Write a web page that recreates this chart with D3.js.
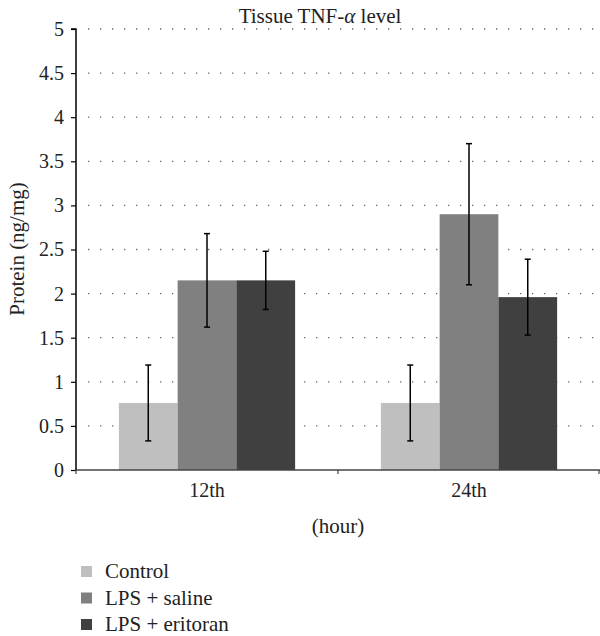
<!DOCTYPE html>
<html><head><meta charset="utf-8">
<script src="https://cdn.jsdelivr.net/npm/d3@7"></script>
<style>body{margin:0;background:#fff}svg{display:block}</style>
</head><body><svg id="c" width="600" height="636"></svg>
<script>
const categories = ["12th", "24th"];
const seriesNames = ["Control", "LPS + saline", "LPS + eritoran"];
const control = [0.76, 0.76];
const saline = [2.15, 2.9];
const eritoran = [2.15, 1.96];
const controlErr = [0.43, 0.43];
const salineErr = [0.53, 0.8];
const eritoranErr = [0.33, 0.43];
const yTicks = [0, 0.5, 1, 1.5, 2, 2.5, 3, 3.5, 4, 4.5, 5];
const colors = ["#bfbfbf", "#808080", "#404040"];

const FONT = "'Liberation Serif', 'DejaVu Serif', 'Times New Roman', serif";
const FS = 20;
const values = [control, saline, eritoran];
const errs = [controlErr, salineErr, eritoranErr];
const svg = d3.select("#c");
const m = {l: 76, r: 0, t: 29, b: 166};
const W = 600, H = 636;
const y = d3.scaleLinear().domain([0, 5]).range([H - m.b, m.t]);
const x0 = d3.scaleBand().domain(categories).range([m.l, W - m.r]).paddingInner(0).paddingOuter(0);
const x1 = d3.scaleBand().domain(seriesNames).range([0, x0.bandwidth()]).paddingInner(0).paddingOuter(0.73);

// grid
svg.append("g").selectAll("line").data(yTicks.filter(d => d > 0)).join("line")
  .attr("x1", m.l + 12).attr("x2", W).attr("y1", d => y(d)).attr("y2", d => y(d))
  .attr("stroke", "#666").attr("stroke-width", 1.3).attr("stroke-dasharray", "1.3,10.7");

// bars
const g = svg.append("g");
categories.forEach((c, ci) => {
  seriesNames.forEach((s, si) => {
    const v = values[si][ci], e = errs[si][ci];
    const bx = x0(c) + x1(s);
    g.append("rect").attr("x", bx).attr("y", y(v)).attr("width", x1.bandwidth()).attr("height", y(0) - y(v)).attr("fill", colors[si]);
    const cx = bx + x1.bandwidth() / 2;
    g.append("line").attr("x1", cx).attr("x2", cx).attr("y1", y(v + e)).attr("y2", y(v - e)).attr("stroke", "#000").attr("stroke-width", 1.5);
    [v + e, v - e].forEach(t => g.append("line").attr("x1", cx - 3).attr("x2", cx + 3).attr("y1", y(t)).attr("y2", y(t)).attr("stroke", "#000").attr("stroke-width", 1.5));
  });
});

// y axis
const ya = svg.append("g").attr("transform", `translate(${m.l},0)`)
  .call(d3.axisLeft(y).tickValues(yTicks).tickSize(5).tickPadding(7).tickFormat(d3.format("")));
ya.attr("font-family", FONT);
ya.select(".domain").attr("stroke", "#000").attr("stroke-width", 1.5).attr("d", `M-5,${y(5)}H0V${y(0)}`);
ya.selectAll(".tick line").attr("stroke", "#000").attr("stroke-width", 1.2);
ya.selectAll("text").attr("font-family", FONT).attr("font-size", FS).attr("fill", "#222");

// x axis
const xa = svg.append("g").attr("transform", `translate(0,${y(0)})`)
  .call(d3.axisBottom(x0).tickSize(0).tickPadding(0));
xa.attr("font-family", FONT);
xa.select(".domain").attr("stroke", "#444").attr("stroke-width", 1.5).attr("d", `M${m.l},0H${W}`);
xa.selectAll("text").attr("font-family", FONT).attr("font-size", FS).attr("fill", "#222").attr("dy", null).attr("y", 27);
[m.l, x0("24th"), W - 1].forEach(t => svg.append("line").attr("x1", t).attr("x2", t).attr("y1", y(0)).attr("y2", y(0) + 4).attr("stroke", "#444").attr("stroke-width", 1.2));

// title & labels
const txt = (sel) => sel.attr("font-family", FONT).attr("fill", "#222");
txt(svg.append("text")).attr("x", 320).attr("y", 23).attr("text-anchor", "middle").attr("font-size", 21)
  .html('Tissue TNF-<tspan font-style="italic">α</tspan> level');
txt(svg.append("text")).attr("x", 338).attr("y", 533).attr("text-anchor", "middle").attr("font-size", FS + 1).text("(hour)");
txt(svg.append("text")).attr("transform", `translate(24,249) rotate(-90)`).attr("text-anchor", "middle").attr("font-size", FS + 1).text("Protein (ng/mg)");

// legend
const lg = svg.append("g");
seriesNames.forEach((s, i) => {
  const ly = 571 + i * 26.5;
  lg.append("rect").attr("x", 81).attr("y", ly - 5).attr("width", 11).attr("height", 11).attr("fill", colors[i]);
  txt(lg.append("text")).attr("x", 105).attr("y", ly + 7).attr("font-size", FS + 1).text(s);
});
</script></body></html>
